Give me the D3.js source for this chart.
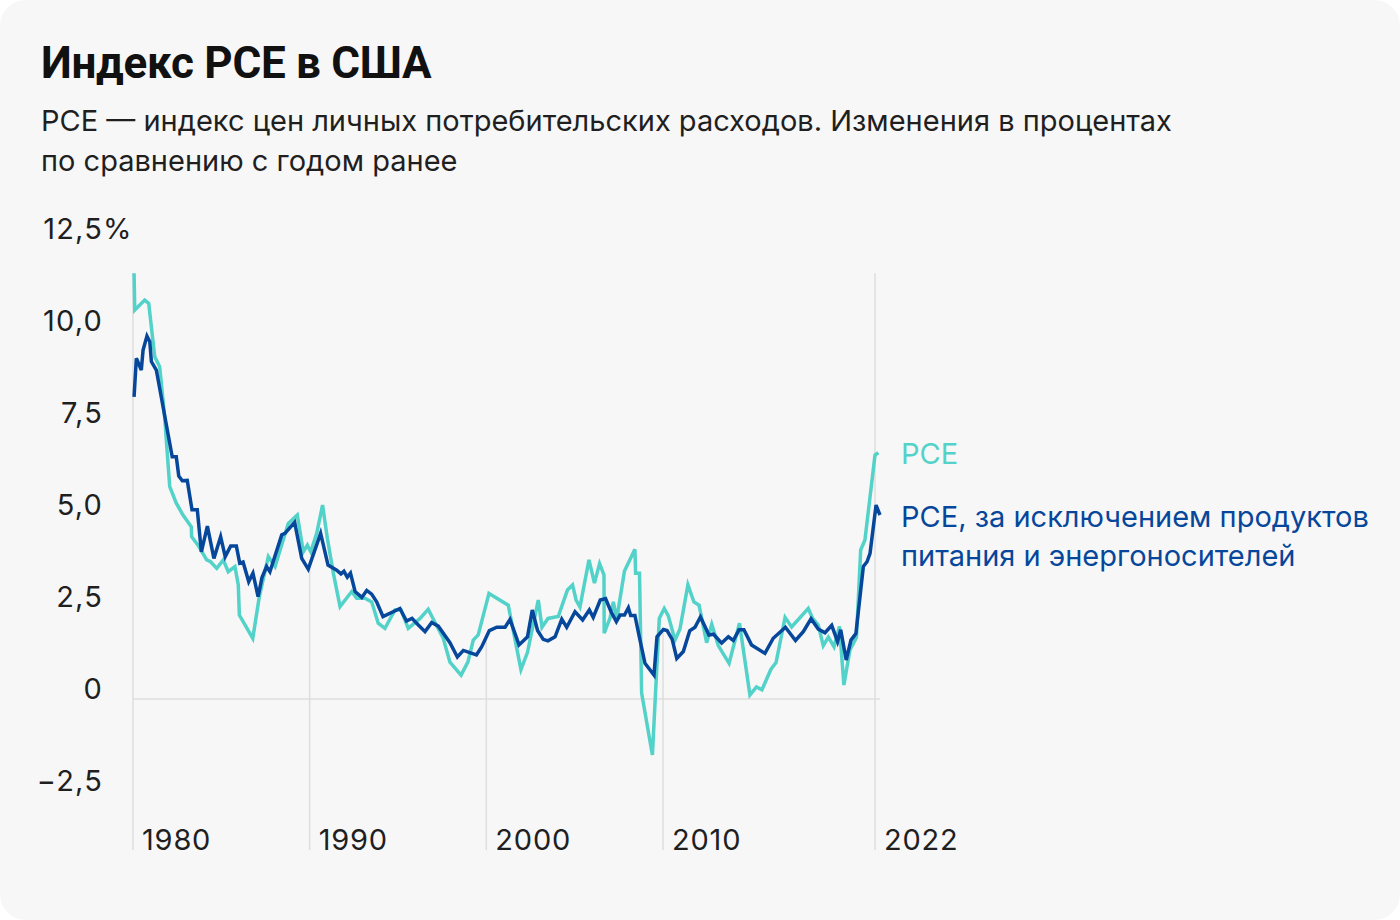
<!DOCTYPE html>
<html><head><meta charset="utf-8">
<script src="https://cdn.jsdelivr.net/npm/d3@7/dist/d3.min.js"></script>
<style>
html,body{margin:0;padding:0;background:#ffffff;}
svg{display:block;}
text{font-family:Inter,Roboto,"Noto Sans",sans-serif;}
</style></head>
<body>
<svg id="chart" width="1400" height="920"></svg>
<script>
// ---- data ----
const titleText = "Индекс PCE в США";
const subtitleLines = ["PCE — индекс цен личных потребительских расходов. Изменения в процентах", "по сравнению с годом ранее"];
const yTicks = [-2.5, 0, 2.5, 5, 7.5, 10, 12.5];
const yTickLabels = ["−2,5", "0", "2,5", "5,0", "7,5", "10,0", "12,5"];
const xTicks = [1980, 1990, 2000, 2010, 2022];
const xTickLabels = ["1980", "1990", "2000", "2010", "2022"];
const seriesNames = ["PCE", "PCE, за исключением продуктов|питания и энергоносителей"];

const pceDates = [1980.06,1980.10,1980.66,1980.89,1981.23,1981.51,1981.79,1981.94,1982.08,1982.45,1982.83,1983.30,1983.32,1983.68,1984.17,1984.39,1984.74,1985.11,1985.39,1985.77,1985.96,1986.02,1986.78,1987.15,1987.66,1988.04,1988.79,1989.30,1989.64,1989.87,1990.06,1990.40,1990.73,1991.00,1991.34,1991.72,1992.38,1992.66,1993.13,1993.51,1993.88,1994.26,1994.83,1995.17,1995.58,1996.25,1996.71,1997.56,1997.94,1998.57,1998.96,1999.26,1999.54,2000.15,2001.24,2001.96,2002.33,2002.94,2003.15,2003.49,2004.07,2004.59,2004.88,2005.08,2005.30,2005.81,2006.12,2006.41,2006.66,2006.67,2007.00,2007.19,2007.38,2007.82,2008.41,2008.45,2008.67,2008.79,2009.40,2009.79,2010.07,2010.30,2010.68,2010.96,2011.41,2011.75,2012.04,2012.47,2012.76,2013.13,2013.74,2014.33,2014.92,2015.29,2015.60,2016.11,2016.40,2016.91,2017.28,2018.22,2018.46,2018.79,2019.07,2019.36,2019.68,2019.99,2020.24,2020.58,2020.95,2021.19,2021.43,2022.00,2022.19];
const pceValues = [11.57,10.57,10.84,10.75,9.30,9.03,7.67,6.68,5.77,5.32,5.00,4.68,4.41,4.18,3.78,3.73,3.55,3.78,3.46,3.60,3.10,2.28,1.65,2.78,3.87,3.60,4.77,5.00,4.00,4.18,4.00,4.50,5.27,4.37,3.42,2.51,2.92,2.74,2.74,2.64,2.06,1.92,2.42,2.42,1.92,2.19,2.44,1.65,1.00,0.65,1.01,1.60,1.74,2.87,2.55,0.80,1.27,2.69,1.95,2.19,2.24,2.96,3.10,2.69,2.50,3.78,3.15,3.68,3.37,1.79,2.20,2.64,2.17,3.48,4.07,3.42,3.42,0.16,-1.52,2.19,2.46,2.26,1.60,1.90,3.10,2.64,2.55,1.53,2.03,1.45,0.97,2.06,0.11,0.33,0.25,0.81,0.99,2.22,1.96,2.46,2.20,2.01,1.45,1.68,1.42,1.97,0.38,1.33,1.67,4.05,4.32,6.63,6.69];

const coreDates = [1980.06,1980.19,1980.47,1980.57,1980.79,1980.95,1981.04,1981.32,1982.22,1982.45,1982.59,1982.79,1983.07,1983.34,1983.64,1983.87,1984.21,1984.58,1984.96,1985.22,1985.53,1985.85,1986.04,1986.23,1986.55,1986.79,1987.08,1987.30,1987.56,1987.75,1988.42,1988.60,1989.15,1989.55,1989.92,1990.62,1991.04,1991.53,1991.77,1991.94,1992.13,1992.31,1992.57,1992.95,1993.23,1993.51,1993.79,1994.15,1995.11,1995.48,1995.79,1996.15,1996.53,1996.91,1997.28,1997.94,1998.36,1998.70,1999.44,1999.74,2000.17,2000.59,2001.06,2001.34,2001.85,2002.33,2002.60,2002.90,2003.22,2003.49,2003.89,2004.27,2004.55,2005.02,2005.45,2005.83,2006.05,2006.45,2006.75,2007.06,2007.36,2007.57,2007.82,2008.04,2008.17,2008.41,2008.66,2008.98,2009.49,2009.66,2010.02,2010.23,2010.52,2010.78,2011.15,2011.51,2011.81,2012.12,2012.60,2012.86,2013.32,2013.70,2013.98,2014.30,2014.58,2015.01,2015.77,2016.24,2016.93,2017.50,2017.94,2018.38,2018.79,2019.17,2019.55,2019.88,2020.06,2020.37,2020.64,2020.92,2021.34,2021.55,2021.72,2022.06,2022.28];
const coreValues = [8.21,9.26,8.94,9.48,9.86,9.71,9.17,8.94,6.58,6.58,6.06,5.93,5.94,5.14,5.14,4.00,4.70,3.82,4.41,3.87,4.16,4.16,3.69,3.72,3.19,3.42,2.78,3.30,3.60,3.46,4.46,4.50,4.80,3.82,3.53,4.50,3.64,3.50,3.40,3.47,3.31,3.42,2.92,2.76,2.95,2.85,2.64,2.24,2.46,2.12,2.19,2.01,1.83,2.08,1.98,1.53,1.14,1.32,1.20,1.42,1.86,1.95,1.95,2.16,1.47,1.69,2.42,1.86,1.62,1.58,1.69,2.17,1.95,2.37,2.15,2.42,2.22,2.69,2.73,2.37,2.10,2.28,2.28,2.48,2.27,2.27,1.69,0.97,0.65,1.69,1.89,1.86,1.62,1.10,1.29,1.85,1.95,2.23,1.74,1.76,1.52,1.69,1.59,1.88,1.88,1.47,1.24,1.65,1.95,1.59,1.83,2.18,1.90,1.80,2.00,1.56,1.88,1.06,1.60,1.78,3.60,3.73,3.96,5.27,5.00];

// ---- layout ----
const colors = { pce: "#52d2c8", core: "#06479b", grid: "#dedede", text: "#1f1f1f" };
const svg = d3.select("#chart");
svg.append("rect").attr("x",0).attr("y",0).attr("width",1400).attr("height",920)
  .attr("rx",26).attr("fill","#f7f7f7");

const x = d3.scaleLinear().domain([1980, 2022]).range([133, 875]);
const y = d3.scaleLinear().domain([-2.5, 12.5]).range([791, 239]);
const bottomY = 850;
const fs = 29;

// title & subtitle
svg.append("text").attr("x",41).attr("y",78).attr("font-size",44).attr("font-weight",700)
  .style("font-family","Roboto, sans-serif")
  .attr("fill","#111").attr("letter-spacing","-0.3").text(titleText);
subtitleLines.forEach((s,i)=>{
  svg.append("text").attr("x",41).attr("y",131+i*40).attr("font-size",fs)
    .attr("fill",colors.text).text(s);
});

const pce = pceDates.map((d,i)=>({t:d, v:pceValues[i]}));
const core = coreDates.map((d,i)=>({t:d, v:coreValues[i]}));

function interp(series, t){
  for (let i=1;i<series.length;i++){
    if (series[i].t>=t){
      const a=series[i-1], b=series[i];
      return a.v + (b.v-a.v)*(t-a.t)/(b.t-a.t);
    }
  }
  return series[series.length-1].v;
}

// vertical drop lines at ticks
const g = svg.append("g");
xTicks.forEach((t,i)=>{
  let top;
  if (i===0) top = pce[0].v;
  else if (i===xTicks.length-1) top = d3.max(pce, d=>d.v);
  else top = interp(core, t);
  g.append("line").attr("x1",x(t)).attr("x2",x(t)).attr("y1",y(top)).attr("y2",bottomY)
    .attr("stroke",colors.grid).attr("stroke-width",1.5);
});
// zero line
g.append("line").attr("x1",x(1980)).attr("x2",880).attr("y1",y(0)).attr("y2",y(0))
  .attr("stroke",colors.grid).attr("stroke-width",1.5);

// y labels
yTicks.forEach((v,i)=>{
  svg.append("text").attr("x",103).attr("y",y(v)).attr("text-anchor","end")
    .attr("font-size",fs).attr("letter-spacing","1.2").attr("fill",colors.text).text(yTickLabels[i]);
  if (i===yTicks.length-1){
    svg.append("text").attr("x",103).attr("y",y(v)).attr("font-size",fs)
      .attr("fill",colors.text).text("%");
  }
});
// x labels
xTicks.forEach((t,i)=>{
  svg.append("text").attr("x",x(t)+9).attr("y",bottomY).attr("font-size",fs)
    .attr("letter-spacing","0.8").attr("fill",colors.text).text(xTickLabels[i]);
});

// lines
const line = d3.line().x(d=>x(d.t)).y(d=>y(d.v));
svg.append("path").datum(pce).attr("d",line).attr("fill","none")
  .attr("stroke",colors.pce).attr("stroke-width",3.5);
svg.append("path").datum(core).attr("d",line).attr("fill","none")
  .attr("stroke",colors.core).attr("stroke-width",3.5);

// series labels
svg.append("text").attr("x",901).attr("y",464).attr("font-size",fs)
  .attr("fill",colors.pce).text(seriesNames[0]);
seriesNames[1].split("|").forEach((s,i)=>{
  svg.append("text").attr("x",901).attr("y",527+i*39).attr("font-size",fs)
    .attr("fill",colors.core).text(s);
});
</script>
</body></html>
